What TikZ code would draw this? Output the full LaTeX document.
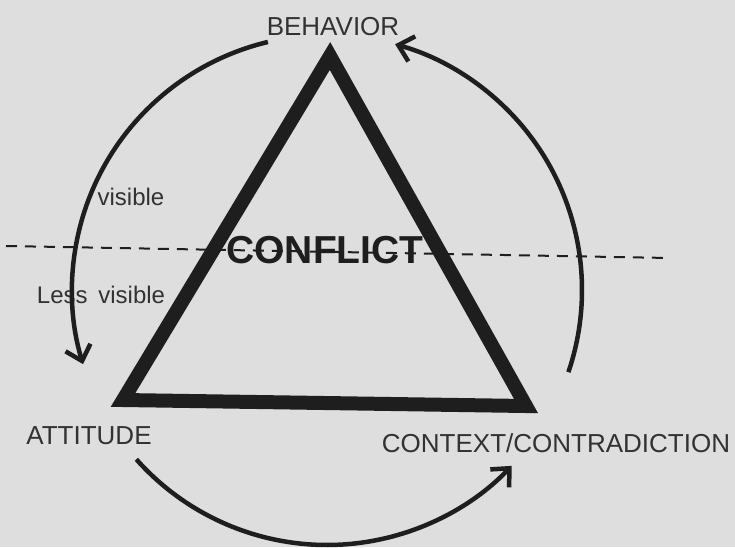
\documentclass[tikz,border=0pt]{standalone}
\usepackage{fontspec}
\setmainfont{Liberation Sans}
\usetikzlibrary{arrows.meta}
\definecolor{bg}{RGB}{222,222,222}
\definecolor{ink}{RGB}{30,30,30}
\definecolor{txt}{RGB}{50,50,50}
\begin{document}
\begin{tikzpicture}[x=1pt,y=-1pt,
  lbl/.style={font=\fontsize{26}{30}\selectfont, text=txt, inner sep=0pt, anchor=base},
  sm/.style={font=\fontsize{24}{28}\selectfont, text=txt, inner sep=0pt, anchor=base},
  big/.style={font=\fontsize{39}{44}\selectfont\bfseries, text=ink, inner sep=0pt, anchor=base},
  cyc/.style={line width=4.5pt, draw=ink, -{Straight Barb[length=14pt,width=26pt]}},
  tri/.style={line width=14pt, draw=ink, line join=miter},
  divider/.style={line width=2pt, draw=ink, dash pattern=on 11pt off 8pt}]
\fill[bg] (0,0) rectangle (735,547);
\useasboundingbox (0,0) rectangle (735,547);
% triangle
\coordinate (apex) at (330,56);
\coordinate (bl) at (123,400);
\coordinate (br) at (526,406);
\draw[tri] (apex) -- (bl) -- (br) -- cycle;
% labels
\node[lbl] (behavior) at (333,35) {BEHAVIOR};
\node[lbl] (attitude) at (89,444) {ATTITUDE};
\node[lbl] (context) at (556,452) {CONTEXT/CONTRADICTION};
\node[sm] (vis) at (131,205) {visible};
\node[sm] (lessvis) at (101,303) {Less\hspace{0.45em}visible};
\node[big] (conflict) at (325,263) {CONFLICT};
% divider
\coordinate (dl) at (6,246);
\coordinate (dr) at (670,258);
\draw[divider] (dl) -- (dr);
% cycle arrows on a circle
\coordinate (c) at (327,290);
\draw[cyc] ([shift={(-103.4:255)}]c) arc[start angle=-103.4, end angle=-196.9, radius=255];
\draw[cyc] ([shift={(18.8:255)}]c) arc[start angle=18.8, end angle=-74.5, radius=255];
\draw[cyc] ([shift={(138.4:255)}]c) arc[start angle=138.4, end angle=43.6, radius=255];
\end{tikzpicture}
\end{document}
